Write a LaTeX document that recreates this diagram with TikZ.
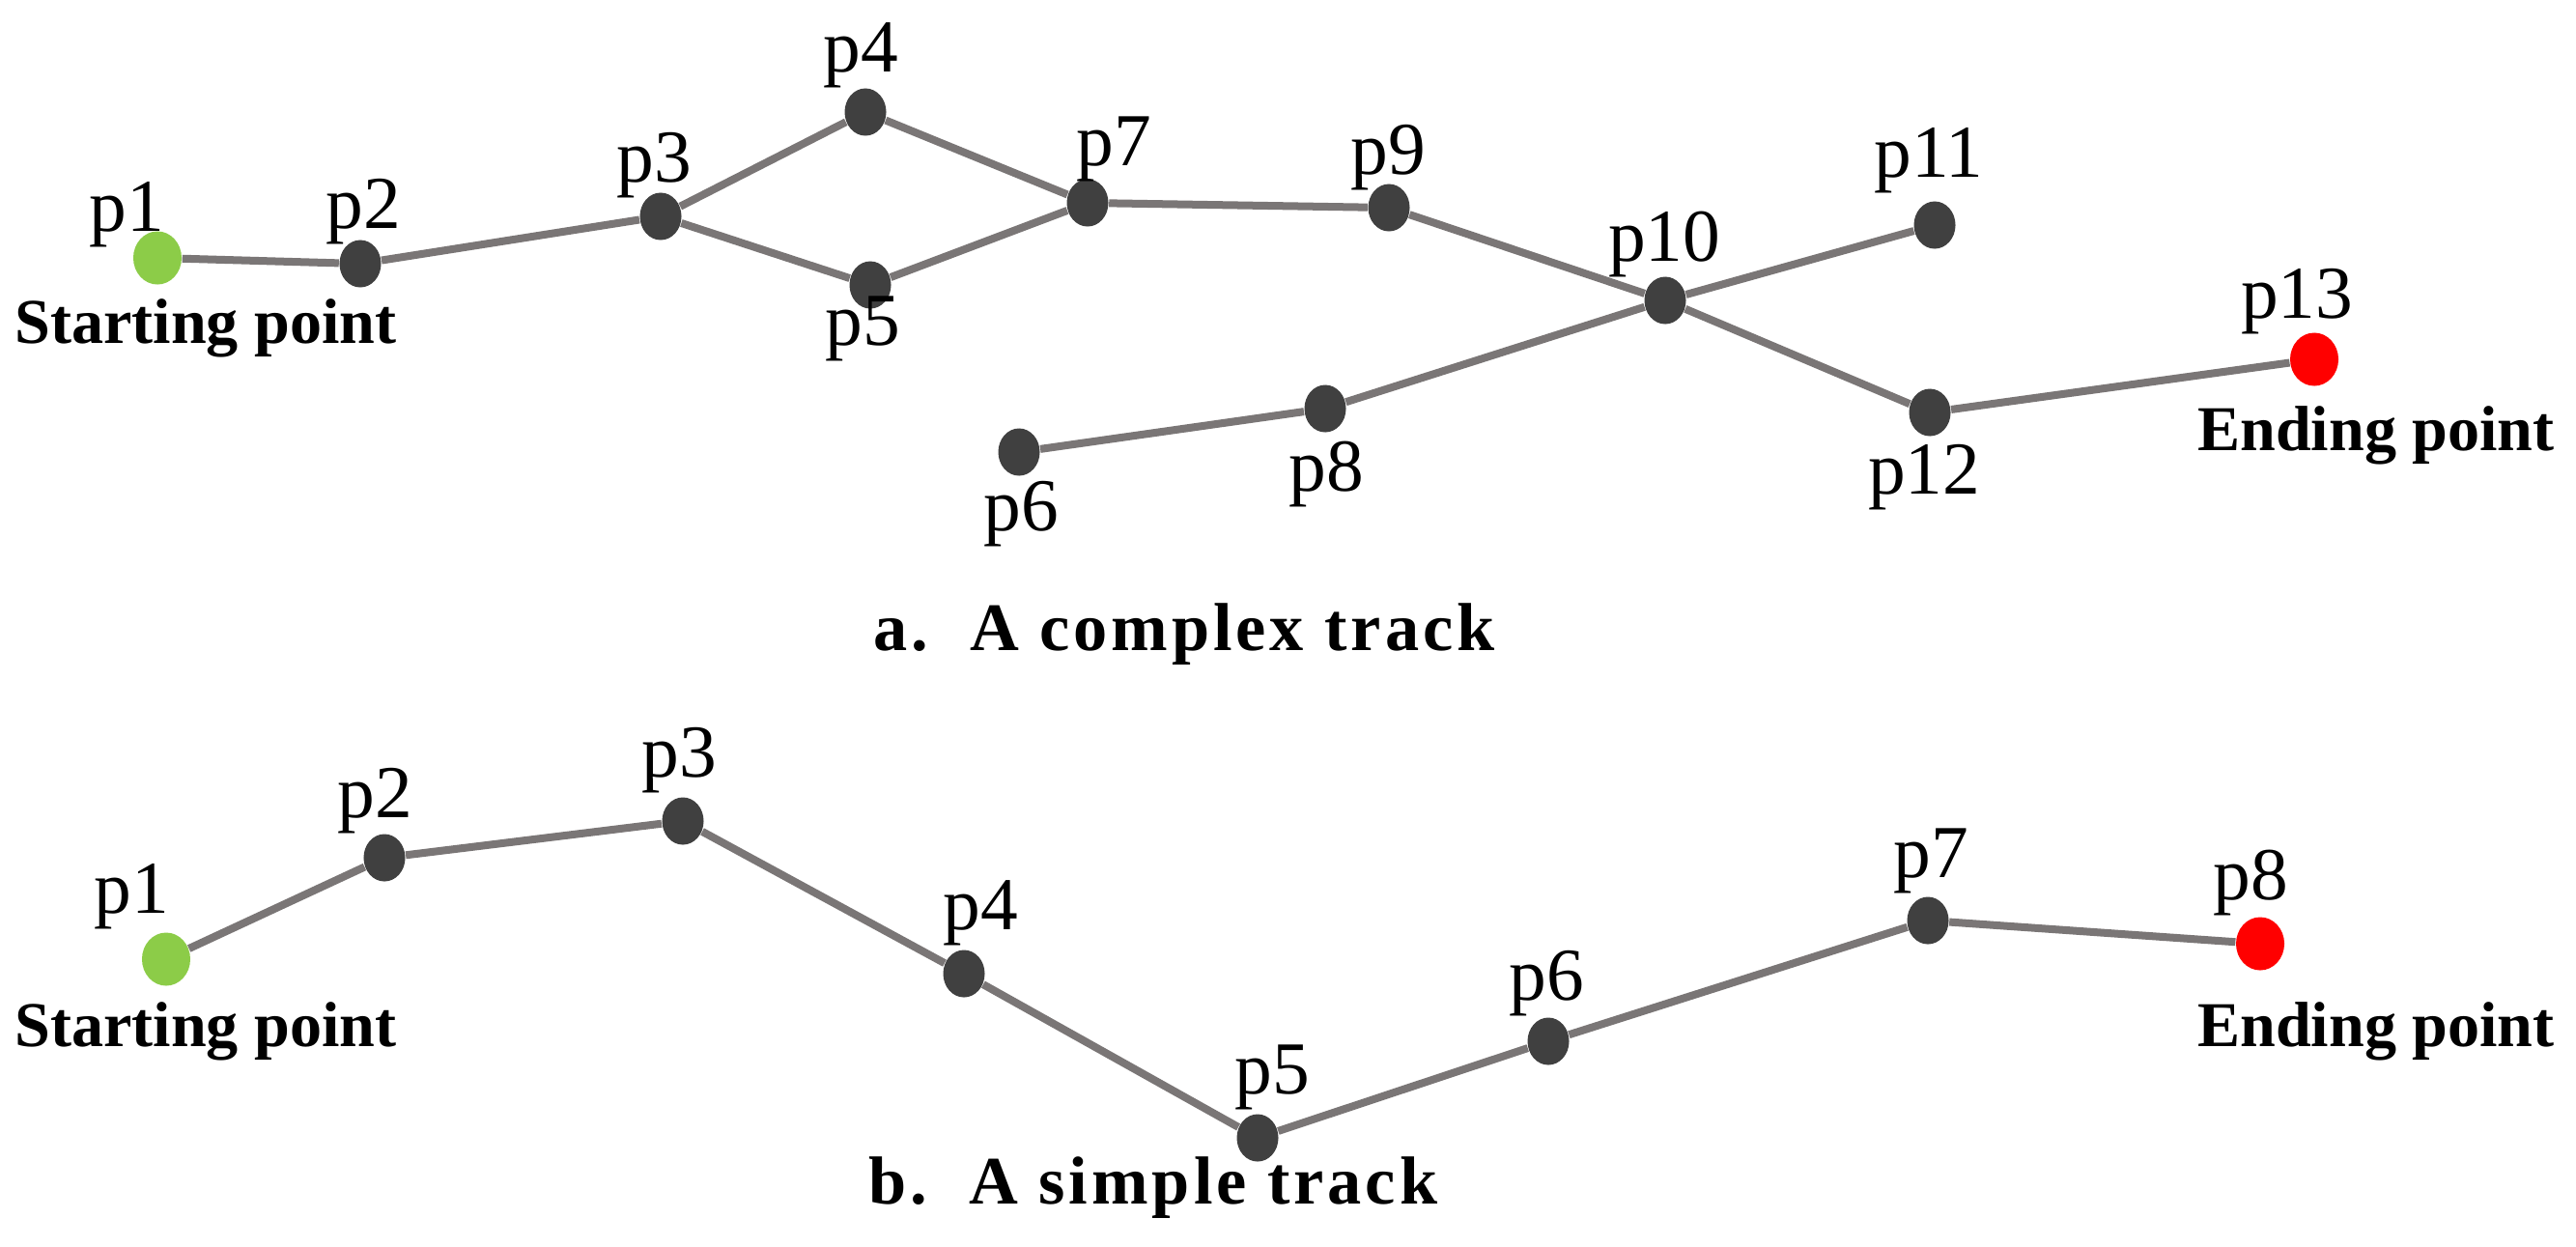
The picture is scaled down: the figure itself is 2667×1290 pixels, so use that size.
\documentclass[tikz,border=0pt]{standalone}
\usepackage{fontspec}
\setmainfont{Liberation Serif}
\usetikzlibrary{backgrounds,shapes.geometric}
\definecolor{edgegray}{RGB}{122,118,118}
\definecolor{dotdark}{RGB}{64,64,64}
\definecolor{startgreen}{RGB}{140,204,72}
\definecolor{endred}{RGB}{255,0,0}
\begin{document}
\begin{tikzpicture}[x=0.01cm,y=-0.01cm,
  dotpt/.style={ellipse,fill=dotdark,inner sep=0pt,minimum width=0.43cm,minimum height=0.49cm},
  startpt/.style={dotpt,fill=startgreen,minimum width=0.5cm,minimum height=0.55cm},
  endpt/.style={dotpt,fill=endred,minimum width=0.5cm,minimum height=0.55cm},
  lbl/.style={inner sep=0pt,anchor=base,font=\fontsize{22}{26}\selectfont},
  tagtxt/.style={inner sep=0pt,anchor=base,font=\fontsize{18.8}{22}\selectfont\bfseries},
  captxt/.style={inner sep=0pt,anchor=base,font=\fontsize{20}{24}\selectfont\bfseries\addfontfeature{LetterSpace=5.6}},
  trk/.style={draw=edgegray,line width=0.08cm}]
\useasboundingbox (0,0) rectangle (2667,1290);
\begin{scope}[on background layer]
\fill[white] (0,0) rectangle (2667,1290);
\end{scope}

% ---------- a. complex track ----------
\node[startpt] (a1) at (163,267) {};
\node[dotpt] (a2) at (373,273) {};
\node[dotpt] (a3) at (684,224) {};
\node[dotpt] (a4) at (896,116) {};
\node[dotpt] (a5) at (901,295) {};
\node[dotpt] (a6) at (1055,468) {};
\node[dotpt] (a7) at (1126,210) {};
\node[dotpt] (a8) at (1372,423) {};
\node[dotpt] (a9) at (1438,215) {};
\node[dotpt] (a10) at (1724,311) {};
\node[dotpt] (a11) at (2003,233) {};
\node[dotpt] (a12) at (1998,427) {};
\node[endpt] (a13) at (2396,372) {};

\begin{scope}[on background layer]
\draw[trk] (a1) -- (a2);
\draw[trk] (a2) -- (a3);
\draw[trk] (a3) -- (a4);
\draw[trk] (a3) -- (a5);
\draw[trk] (a4) -- (a7);
\draw[trk] (a5) -- (a7);
\draw[trk] (a7) -- (a9);
\draw[trk] (a9) -- (a10);
\draw[trk] (a10) -- (a12);
\draw[trk] (a12) -- (a13);
\draw[trk] (a6) -- (a8);
\draw[trk] (a8) -- (a10);
\draw[trk] (a10) -- (a11);
\end{scope}

\node[lbl] (la1) at (131,239) {p1};
\node[lbl] (la2) at (376,236) {p2};
\node[lbl] (la3) at (677,188) {p3};
\node[lbl] (la4) at (891,74) {p4};
\node[lbl] (la5) at (893,357) {p5};
\node[lbl] (la6) at (1057,549) {p6};
\node[lbl] (la7) at (1153,171) {p7};
\node[lbl] (la8) at (1373,508) {p8};
\node[lbl] (la9) at (1437,180) {p9};
\node[lbl] (la10) at (1723,270) {p10};
\node[lbl] (la11) at (1997,183) {p11};
\node[lbl] (la12) at (1992,511) {p12};
\node[lbl] (la13) at (2378,329) {p13};
\node[tagtxt] (sa) at (213,355) {Starting point};
\node[tagtxt] (ea) at (2460,466) {Ending point};
\node[captxt] (capa) at (1226,673) {a.\ \ A complex track};

% ---------- b. simple track ----------
\node[startpt] (b1) at (172,993) {};
\node[dotpt] (b2) at (398,888) {};
\node[dotpt] (b3) at (707,850) {};
\node[dotpt] (b4) at (998,1008) {};
\node[dotpt] (b5) at (1302,1178) {};
\node[dotpt] (b6) at (1603,1078) {};
\node[dotpt] (b7) at (1996,953) {};
\node[endpt] (b8) at (2340,977) {};

\begin{scope}[on background layer]
\draw[trk] (b1) -- (b2);
\draw[trk] (b2) -- (b3);
\draw[trk] (b3) -- (b4);
\draw[trk] (b4) -- (b5);
\draw[trk] (b5) -- (b6);
\draw[trk] (b6) -- (b7);
\draw[trk] (b7) -- (b8);
\end{scope}

\node[lbl] (lb1) at (136,945) {p1};
\node[lbl] (lb2) at (388,846) {p2};
\node[lbl] (lb3) at (703,804) {p3};
\node[lbl] (lb4) at (1015,962) {p4};
\node[lbl] (lb5) at (1317,1132) {p5};
\node[lbl] (lb6) at (1601,1035) {p6};
\node[lbl] (lb7) at (1999,908) {p7};
\node[lbl] (lb8) at (2330,931) {p8};
\node[tagtxt] (sb) at (213,1083) {Starting point};
\node[tagtxt] (eb) at (2460,1083) {Ending point};
\node[captxt] (capb) at (1194,1246) {b.\ \ A simple track};
\end{tikzpicture}
\end{document}
